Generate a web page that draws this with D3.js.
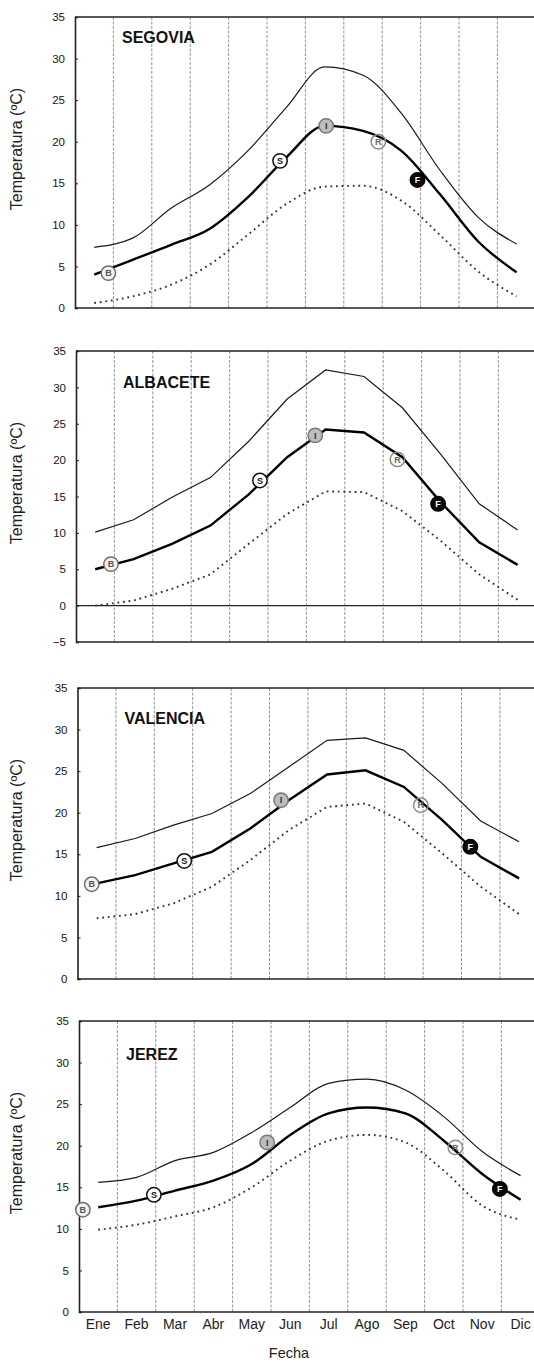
<!DOCTYPE html>
<html>
<head>
<meta charset="utf-8">
<script src="https://cdn.jsdelivr.net/npm/d3@7"></script>
<style>
  body { margin: 0; background: #fff; }
  svg { display: block; font-family: "Liberation Sans", Arial, sans-serif; }
</style>
</head>
<body>
<svg id="chart" width="534" height="1362"></svg>
<script>
// month labels and y ticks
const months = ['Ene', 'Feb', 'Mar', 'Abr', 'May', 'Jun', 'Jul', 'Ago', 'Sep', 'Oct', 'Nov', 'Dic'];
const yTicks = [0, 5, 10, 15, 20, 25, 30, 35];
const yTicksAlbacete = [-5, 0, 5, 10, 15, 20, 25, 30, 35];
const stations = ['SEGOVIA', 'ALBACETE', 'VALENCIA', 'JEREZ'];

// monthly temperatures (max / mean / min)
const maxSegovia = [7.3, 8.4, 12.0, 14.8, 18.9, 24.1, 29.0, 28.0, 23.4, 16.6, 10.9, 7.7];
const meanSegovia = [4.0, 5.8, 7.6, 9.5, 13.3, 18.1, 21.9, 21.3, 18.9, 13.7, 8.0, 4.3];
const minSegovia = [0.6, 1.4, 2.8, 5.2, 8.8, 12.5, 14.6, 14.7, 12.9, 8.8, 4.4, 1.4];

const maxAlbacete = [10.1, 11.8, 14.9, 17.6, 22.6, 28.4, 32.4, 31.5, 27.2, 20.8, 14.0, 10.4];
const meanAlbacete = [5.0, 6.4, 8.5, 11.0, 15.3, 20.4, 24.2, 23.8, 20.4, 14.2, 8.7, 5.6];
const minAlbacete = [0.0, 0.7, 2.3, 4.3, 8.5, 12.6, 15.7, 15.6, 13.0, 8.9, 4.3, 0.8];

const maxValencia = [15.8, 16.9, 18.5, 19.9, 22.3, 25.5, 28.7, 29.0, 27.5, 23.5, 19.0, 16.5];
const meanValencia = [11.5, 12.5, 13.9, 15.3, 18.1, 21.5, 24.6, 25.1, 23.1, 19.1, 14.7, 12.1];
const minValencia = [7.3, 7.8, 9.1, 11.1, 14.3, 17.9, 20.7, 21.1, 18.9, 15.1, 11.1, 7.8];

const maxJerez = [15.6, 16.2, 18.2, 19.2, 21.6, 24.6, 27.5, 28.0, 26.7, 23.5, 19.3, 16.4];
const meanJerez = [12.6, 13.4, 14.6, 15.8, 17.8, 21.3, 23.9, 24.6, 23.9, 20.6, 16.6, 13.5];
const minJerez = [9.9, 10.5, 11.5, 12.6, 15.0, 18.2, 20.6, 21.3, 20.4, 17.0, 12.8, 11.1];

// phenological stages: label, position (month index), temperature
const stageLabels = ['B', 'S', 'I', 'R', 'F'];
const stagePosSegovia = [0.37, 4.84, 6.04, 7.4, 8.42];
const stageValSegovia = [4.2, 17.7, 21.9, 20.0, 15.4];
const stagePosAlbacete = [0.41, 4.29, 5.73, 7.87, 8.93];
const stageValAlbacete = [5.7, 17.2, 23.4, 20.1, 14.0];
const stagePosValencia = [-0.13, 2.28, 4.8, 8.44, 9.73];
const stageValValencia = [11.4, 14.2, 21.5, 20.9, 15.9];
const stagePosJerez = [-0.4, 1.45, 4.4, 9.3, 10.46];
const stageValJerez = [12.3, 14.1, 20.4, 19.8, 14.8];

const series = [
  {max: maxSegovia, mean: meanSegovia, min: minSegovia, pos: stagePosSegovia, val: stageValSegovia},
  {max: maxAlbacete, mean: meanAlbacete, min: minAlbacete, pos: stagePosAlbacete, val: stageValAlbacete},
  {max: maxValencia, mean: meanValencia, min: minValencia, pos: stagePosValencia, val: stageValValencia},
  {max: maxJerez, mean: meanJerez, min: minJerez, pos: stagePosJerez, val: stageValJerez}
];

// panel layout
const panels = [
  {top: 17, bottom: 308, left: 75, ticks: yTicks, titleDy: 26, curve: d3.curveMonotoneX},
  {top: 351, bottom: 642, left: 76, ticks: yTicksAlbacete, titleDy: 37, curve: d3.curveLinear},
  {top: 688, bottom: 979, left: 77.5, ticks: yTicks, titleDy: 36, curve: d3.curveLinear},
  {top: 1021, bottom: 1312, left: 79, ticks: yTicks, titleDy: 39, curve: d3.curveMonotoneX}
];
const band = 38.4;

const stageStyle = {
  B: {fill: '#f2f2f2', stroke: '#6e6e6e', text: '#555'},
  S: {fill: '#fff', stroke: '#111', text: '#111'},
  I: {fill: '#bdbdbd', stroke: '#7a7a7a', text: '#333'},
  R: {fill: 'none', stroke: '#8a8a8a', text: '#666'},
  F: {fill: '#0a0a0a', stroke: '#000', text: '#fff'}
};

const svg = d3.select('#chart');

panels.forEach((p, k) => {
  const s = series[k];
  const g = svg.append('g');
  const right = p.left + band * 12;

  const x = d3.scaleLinear()
    .domain([0, 11])
    .range([p.left + band / 2, p.left + band * 11.5]);
  const y = d3.scaleLinear()
    .domain([p.ticks[0], 35])
    .range([p.bottom, p.top]);

  // month grid lines
  g.selectAll('.grid')
    .data(d3.range(11))
    .join('line')
    .attr('x1', d => x(d + 0.5))
    .attr('x2', d => x(d + 0.5))
    .attr('y1', p.top)
    .attr('y2', p.bottom)
    .style('stroke', '#7a7a7a')
    .style('stroke-width', 0.8)
    .style('stroke-dasharray', '3,1.5');

  // frame
  g.append('line').attr('x1', p.left).attr('x2', right).attr('y1', p.top).attr('y2', p.top)
    .style('stroke', '#222').style('stroke-width', 1.3);
  g.append('line').attr('x1', p.left).attr('x2', right).attr('y1', p.bottom).attr('y2', p.bottom)
    .style('stroke', '#222').style('stroke-width', 1.6);
  if (p.ticks[0] < 0) {
    g.append('line').attr('x1', p.left).attr('x2', right).attr('y1', y(0)).attr('y2', y(0))
      .style('stroke', '#222').style('stroke-width', 1.3);
  }

  const yAxis = g.append('g')
    .attr('transform', `translate(${p.left},0)`)
    .call(d3.axisLeft(y).tickValues(p.ticks).tickSize(-3).tickPadding(10).tickFormat(d3.format('d')));
  yAxis.select('.domain').style('stroke', '#222').style('stroke-width', 1.6);
  yAxis.selectAll('.tick line').style('stroke', '#222');
  yAxis.selectAll('text')
    .style('font-size', '11.5px')
    .style('fill', '#151515')
    .style('font-family', '"Liberation Sans", Arial, sans-serif');

  // y label
  g.append('text')
    .attr('transform', `translate(22,${p.top + 132}) rotate(-90)`)
    .style('text-anchor', 'middle')
    .style('font-size', '16px')
    .style('fill', '#222')
    .text('Temperatura (ºC)');

  // station name
  g.append('text')
    .attr('x', p.left + 47)
    .attr('y', p.top + p.titleDy)
    .style('font-size', '16px')
    .style('font-weight', 'bold')
    .style('fill', '#111')
    .text(stations[k]);

  const line = d3.line()
    .x((d, i) => x(i))
    .y(d => y(d))
    .curve(p.curve);

  g.append('path').datum(s.min).attr('d', line)
    .style('fill', 'none').style('stroke', '#333').style('stroke-width', 1.9)
    .style('stroke-dasharray', '1.8,3.8');
  g.append('path').datum(s.max).attr('d', line)
    .style('fill', 'none').style('stroke', '#1a1a1a').style('stroke-width', 1.2);
  g.append('path').datum(s.mean).attr('d', line)
    .style('fill', 'none').style('stroke', '#000').style('stroke-width', 2.4);

  // stage markers
  const stages = stageLabels.map((l, i) => ({label: l, pos: s.pos[i], val: s.val[i]}));
  const mk = g.selectAll('.stage')
    .data(stages)
    .join('g')
    .attr('transform', d => `translate(${x(d.pos)},${y(d.val)})`);
  mk.append('circle')
    .attr('r', 7.2)
    .style('fill', d => stageStyle[d.label].fill)
    .style('stroke', d => stageStyle[d.label].stroke)
    .style('stroke-width', 1.5);
  mk.append('text')
    .attr('dy', '0.35em')
    .style('text-anchor', 'middle')
    .style('font-size', '9px')
    .style('font-weight', 'bold')
    .style('fill', d => stageStyle[d.label].text)
    .text(d => d.label);

  // month labels on the last panel
  if (k === panels.length - 1) {
    g.selectAll('.month')
      .data(months)
      .join('text')
      .attr('x', (d, i) => x(i))
      .attr('y', p.bottom + 17)
      .style('text-anchor', 'middle')
      .style('font-size', '14px')
      .style('fill', '#222')
      .text(d => d);
    g.append('text')
      .attr('x', 289)
      .attr('y', 1358)
      .style('text-anchor', 'middle')
      .style('font-size', '14.5px')
      .style('fill', '#222')
      .text('Fecha');
  }
});
</script>
</body>
</html>
